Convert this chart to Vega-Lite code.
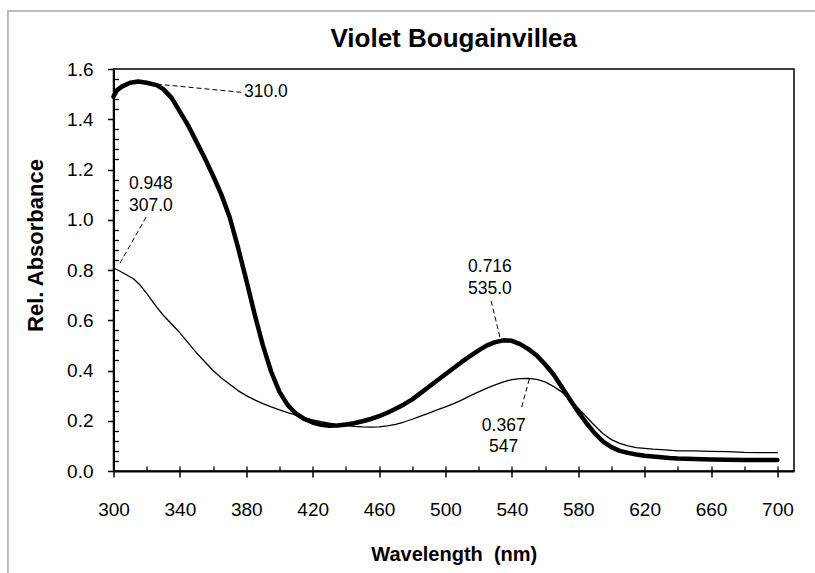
{
  "$schema": "https://vega.github.io/schema/vega-lite/v6.json",
  "width": 680.5,
  "height": 402,
  "autosize": {"type": "none"},
  "padding": {"left": 113.5, "top": 69, "right": 21, "bottom": 102},
  "background": "white",
  "title": {
    "text": "Violet Bougainvillea",
    "font": "Liberation Sans",
    "fontSize": 26,
    "fontWeight": "bold",
    "color": "black",
    "anchor": "middle",
    "frame": "group",
    "baseline": "top",
    "offset": -42
  },
  "config": {
    "view": {"stroke": "black", "strokeWidth": 1.5},
    "axis": {"grid": false}
  },
  "datasets": {
    "frame": [{"x0": 236.4, "x1": 731.6, "y0": 1.831, "y1": -0.474}],
    "spectra": [
      {"series": "thick", "nm": 300, "abs": 1.49}, {"series": "thick", "nm": 302, "abs": 1.515}, {"series": "thick", "nm": 305, "abs": 1.53},
      {"series": "thick", "nm": 310, "abs": 1.545}, {"series": "thick", "nm": 315, "abs": 1.55}, {"series": "thick", "nm": 320, "abs": 1.545},
      {"series": "thick", "nm": 326, "abs": 1.536}, {"series": "thick", "nm": 330, "abs": 1.52}, {"series": "thick", "nm": 335, "abs": 1.485},
      {"series": "thick", "nm": 340, "abs": 1.43}, {"series": "thick", "nm": 345, "abs": 1.375}, {"series": "thick", "nm": 350, "abs": 1.31},
      {"series": "thick", "nm": 355, "abs": 1.245}, {"series": "thick", "nm": 360, "abs": 1.175}, {"series": "thick", "nm": 365, "abs": 1.1},
      {"series": "thick", "nm": 370, "abs": 1.01}, {"series": "thick", "nm": 375, "abs": 0.89}, {"series": "thick", "nm": 380, "abs": 0.76},
      {"series": "thick", "nm": 385, "abs": 0.625}, {"series": "thick", "nm": 390, "abs": 0.5}, {"series": "thick", "nm": 395, "abs": 0.395},
      {"series": "thick", "nm": 400, "abs": 0.315}, {"series": "thick", "nm": 405, "abs": 0.262}, {"series": "thick", "nm": 410, "abs": 0.228},
      {"series": "thick", "nm": 415, "abs": 0.207}, {"series": "thick", "nm": 420, "abs": 0.193}, {"series": "thick", "nm": 425, "abs": 0.184},
      {"series": "thick", "nm": 430, "abs": 0.18}, {"series": "thick", "nm": 435, "abs": 0.181}, {"series": "thick", "nm": 440, "abs": 0.185},
      {"series": "thick", "nm": 445, "abs": 0.19}, {"series": "thick", "nm": 450, "abs": 0.198}, {"series": "thick", "nm": 455, "abs": 0.207},
      {"series": "thick", "nm": 460, "abs": 0.218}, {"series": "thick", "nm": 465, "abs": 0.232}, {"series": "thick", "nm": 470, "abs": 0.248},
      {"series": "thick", "nm": 475, "abs": 0.265}, {"series": "thick", "nm": 480, "abs": 0.285}, {"series": "thick", "nm": 485, "abs": 0.31},
      {"series": "thick", "nm": 490, "abs": 0.335}, {"series": "thick", "nm": 495, "abs": 0.36}, {"series": "thick", "nm": 500, "abs": 0.385},
      {"series": "thick", "nm": 505, "abs": 0.41}, {"series": "thick", "nm": 510, "abs": 0.435}, {"series": "thick", "nm": 515, "abs": 0.458},
      {"series": "thick", "nm": 520, "abs": 0.48}, {"series": "thick", "nm": 525, "abs": 0.5}, {"series": "thick", "nm": 530, "abs": 0.513},
      {"series": "thick", "nm": 535, "abs": 0.52}, {"series": "thick", "nm": 540, "abs": 0.518}, {"series": "thick", "nm": 545, "abs": 0.505},
      {"series": "thick", "nm": 550, "abs": 0.485}, {"series": "thick", "nm": 555, "abs": 0.46}, {"series": "thick", "nm": 560, "abs": 0.425},
      {"series": "thick", "nm": 565, "abs": 0.385}, {"series": "thick", "nm": 570, "abs": 0.335}, {"series": "thick", "nm": 575, "abs": 0.285},
      {"series": "thick", "nm": 580, "abs": 0.235}, {"series": "thick", "nm": 585, "abs": 0.19}, {"series": "thick", "nm": 590, "abs": 0.15},
      {"series": "thick", "nm": 595, "abs": 0.117}, {"series": "thick", "nm": 600, "abs": 0.095}, {"series": "thick", "nm": 605, "abs": 0.08},
      {"series": "thick", "nm": 610, "abs": 0.072}, {"series": "thick", "nm": 615, "abs": 0.066}, {"series": "thick", "nm": 620, "abs": 0.061},
      {"series": "thick", "nm": 625, "abs": 0.058}, {"series": "thick", "nm": 630, "abs": 0.055}, {"series": "thick", "nm": 635, "abs": 0.052},
      {"series": "thick", "nm": 640, "abs": 0.05}, {"series": "thick", "nm": 650, "abs": 0.048}, {"series": "thick", "nm": 660, "abs": 0.046},
      {"series": "thick", "nm": 670, "abs": 0.045}, {"series": "thick", "nm": 680, "abs": 0.044}, {"series": "thick", "nm": 690, "abs": 0.044},
      {"series": "thick", "nm": 700, "abs": 0.044},
      {"series": "thin", "nm": 300, "abs": 0.808}, {"series": "thin", "nm": 304, "abs": 0.795}, {"series": "thin", "nm": 308, "abs": 0.78},
      {"series": "thin", "nm": 312, "abs": 0.765}, {"series": "thin", "nm": 316, "abs": 0.74}, {"series": "thin", "nm": 320, "abs": 0.707},
      {"series": "thin", "nm": 326, "abs": 0.652}, {"series": "thin", "nm": 330, "abs": 0.62}, {"series": "thin", "nm": 335, "abs": 0.585},
      {"series": "thin", "nm": 340, "abs": 0.55}, {"series": "thin", "nm": 345, "abs": 0.51}, {"series": "thin", "nm": 350, "abs": 0.47},
      {"series": "thin", "nm": 355, "abs": 0.435}, {"series": "thin", "nm": 360, "abs": 0.4}, {"series": "thin", "nm": 365, "abs": 0.37},
      {"series": "thin", "nm": 370, "abs": 0.345}, {"series": "thin", "nm": 375, "abs": 0.32}, {"series": "thin", "nm": 380, "abs": 0.3},
      {"series": "thin", "nm": 385, "abs": 0.283}, {"series": "thin", "nm": 390, "abs": 0.268}, {"series": "thin", "nm": 395, "abs": 0.255},
      {"series": "thin", "nm": 400, "abs": 0.243}, {"series": "thin", "nm": 405, "abs": 0.232}, {"series": "thin", "nm": 410, "abs": 0.222},
      {"series": "thin", "nm": 415, "abs": 0.212}, {"series": "thin", "nm": 420, "abs": 0.203}, {"series": "thin", "nm": 425, "abs": 0.196},
      {"series": "thin", "nm": 430, "abs": 0.19}, {"series": "thin", "nm": 435, "abs": 0.185}, {"series": "thin", "nm": 440, "abs": 0.181},
      {"series": "thin", "nm": 445, "abs": 0.178}, {"series": "thin", "nm": 450, "abs": 0.176}, {"series": "thin", "nm": 455, "abs": 0.175},
      {"series": "thin", "nm": 460, "abs": 0.176}, {"series": "thin", "nm": 465, "abs": 0.18}, {"series": "thin", "nm": 470, "abs": 0.186},
      {"series": "thin", "nm": 475, "abs": 0.195}, {"series": "thin", "nm": 480, "abs": 0.206}, {"series": "thin", "nm": 485, "abs": 0.218},
      {"series": "thin", "nm": 490, "abs": 0.23}, {"series": "thin", "nm": 495, "abs": 0.243}, {"series": "thin", "nm": 500, "abs": 0.255},
      {"series": "thin", "nm": 505, "abs": 0.268}, {"series": "thin", "nm": 510, "abs": 0.283}, {"series": "thin", "nm": 515, "abs": 0.3},
      {"series": "thin", "nm": 520, "abs": 0.315}, {"series": "thin", "nm": 525, "abs": 0.33}, {"series": "thin", "nm": 530, "abs": 0.343},
      {"series": "thin", "nm": 535, "abs": 0.355}, {"series": "thin", "nm": 540, "abs": 0.364}, {"series": "thin", "nm": 545, "abs": 0.368},
      {"series": "thin", "nm": 550, "abs": 0.369}, {"series": "thin", "nm": 555, "abs": 0.365}, {"series": "thin", "nm": 560, "abs": 0.355},
      {"series": "thin", "nm": 565, "abs": 0.337}, {"series": "thin", "nm": 570, "abs": 0.315}, {"series": "thin", "nm": 575, "abs": 0.285},
      {"series": "thin", "nm": 580, "abs": 0.25}, {"series": "thin", "nm": 585, "abs": 0.215}, {"series": "thin", "nm": 590, "abs": 0.18},
      {"series": "thin", "nm": 595, "abs": 0.148}, {"series": "thin", "nm": 600, "abs": 0.125}, {"series": "thin", "nm": 605, "abs": 0.11},
      {"series": "thin", "nm": 610, "abs": 0.1}, {"series": "thin", "nm": 615, "abs": 0.093}, {"series": "thin", "nm": 620, "abs": 0.09},
      {"series": "thin", "nm": 625, "abs": 0.087}, {"series": "thin", "nm": 630, "abs": 0.085}, {"series": "thin", "nm": 640, "abs": 0.08},
      {"series": "thin", "nm": 650, "abs": 0.08}, {"series": "thin", "nm": 660, "abs": 0.078}, {"series": "thin", "nm": 670, "abs": 0.077},
      {"series": "thin", "nm": 680, "abs": 0.074}, {"series": "thin", "nm": 690, "abs": 0.073}, {"series": "thin", "nm": 700, "abs": 0.073}
    ],
    "leaders": [
      {"x1": 326, "y1": 1.54, "x2": 377.2, "y2": 1.507},
      {"x1": 303.9, "y1": 0.827, "x2": 319.6, "y2": 1.01},
      {"x1": 532.8, "y1": 0.534, "x2": 527.2, "y2": 0.685},
      {"x1": 550.5, "y1": 0.366, "x2": 545.9, "y2": 0.2535}
    ],
    "labelsLeft": [
      {"label": "310.0", "x": 378.6, "y": 1.507}
    ],
    "labelsCenter": [
      {"label": "0.948", "x": 322.5, "y": 1.142},
      {"label": "307.0", "x": 322.5, "y": 1.056},
      {"label": "0.716", "x": 526.8, "y": 0.81},
      {"label": "535.0", "x": 526.8, "y": 0.724},
      {"label": "0.367", "x": 535.1, "y": 0.179},
      {"label": "547", "x": 535.1, "y": 0.0967}
    ]
  },
  "layer": [
    {
      "data": {"name": "frame"},
      "mark": {"type": "rect", "fill": null, "stroke": "#a6a6a6", "strokeWidth": 1.5, "clip": false},
      "encoding": {
        "x": {"field": "x0", "type": "quantitative", "scale": {"domain": [300, 710]}, "axis": null},
        "x2": {"field": "x1"},
        "y": {"field": "y0", "type": "quantitative", "scale": {"domain": [0, 1.6]}, "axis": null},
        "y2": {"field": "y1"}
      }
    },
    {
      "data": {"name": "spectra"},
      "mark": {"type": "line", "color": "black", "strokeJoin": "round", "strokeCap": "round"},
      "encoding": {
        "x": {
          "field": "nm", "type": "quantitative",
          "scale": {"domain": [300, 710], "nice": false, "zero": false},
          "axis": {
            "orient": "bottom",
            "values": [300, 340, 380, 420, 460, 500, 540, 580, 620, 660, 700],
            "tickSize": 6, "tickWidth": 1.5, "tickColor": "black",
            "domainColor": "black", "domainWidth": 2,
            "labelFont": "Liberation Sans", "labelFontSize": 19, "labelColor": "black",
            "labelBaseline": "middle", "labelPadding": 32, "labelFlush": false, "labelOverlap": false,
            "title": "Wavelength \u00a0(nm)",
            "titleFont": "Liberation Sans", "titleFontSize": 20, "titleFontWeight": "bold", "titleColor": "black",
            "titleY": 83, "titleBaseline": "middle"
          }
        },
        "y": {
          "field": "abs", "type": "quantitative",
          "scale": {"domain": [0, 1.6], "nice": false},
          "axis": {
            "orient": "left",
            "values": [0, 0.2, 0.4, 0.6, 0.8, 1.0, 1.2, 1.4, 1.6],
            "format": ".1f",
            "tickSize": 6, "tickWidth": 1.5, "tickColor": "black",
            "domainColor": "black", "domainWidth": 2,
            "labelFont": "Liberation Sans", "labelFontSize": 19, "labelColor": "black",
            "labelPadding": 14.5, "labelOverlap": false,
            "title": "Rel. Absorbance",
            "titleFont": "Liberation Sans", "titleFontSize": 22, "titleFontWeight": "bold", "titleColor": "black",
            "titleX": -78.5, "titleY": 176, "titleAlign": "center", "titleBaseline": "middle", "titleAngle": 270
          }
        },
        "detail": {"field": "series"},
        "strokeWidth": {"field": "series", "type": "nominal", "scale": {"domain": ["thick", "thin"], "range": [4.5, 1.3]}, "legend": null}
      }
    },
    {
      "data": {"name": "leaders"},
      "mark": {"type": "rule", "color": "black", "strokeWidth": 1, "strokeDash": [5, 3]},
      "encoding": {
        "x": {
          "field": "x1", "type": "quantitative", "scale": {"domain": [300, 710]},
          "axis": {
            "orient": "bottom",
            "values": [300, 320, 340, 360, 380, 400, 420, 440, 460, 480, 500, 520, 540, 560, 580, 600, 620, 640, 660, 680, 700],
            "tickSize": -5, "tickWidth": 1.3, "tickColor": "black",
            "labels": false, "domain": false, "title": null
          }
        },
        "x2": {"field": "x2"},
        "y": {
          "field": "y1", "type": "quantitative", "scale": {"domain": [0, 1.6]},
          "axis": {
            "orient": "left",
            "values": [0.04, 0.08, 0.12, 0.16, 0.24, 0.28, 0.32, 0.36, 0.44, 0.48, 0.52, 0.56, 0.64, 0.68, 0.72, 0.76, 0.84, 0.88, 0.92, 0.96, 1.04, 1.08, 1.12, 1.16, 1.24, 1.28, 1.32, 1.36, 1.44, 1.48, 1.52, 1.56],
            "tickSize": -5, "tickWidth": 1.3, "tickColor": "black",
            "labels": false, "domain": false, "title": null
          }
        },
        "y2": {"field": "y2"}
      }
    },
    {
      "data": {"name": "labelsLeft"},
      "mark": {"type": "text", "font": "Liberation Sans", "fontSize": 17.5, "color": "black", "align": "left", "baseline": "middle"},
      "encoding": {
        "x": {"field": "x", "type": "quantitative", "scale": {"domain": [300, 710]}, "axis": null},
        "y": {"field": "y", "type": "quantitative", "scale": {"domain": [0, 1.6]}, "axis": null},
        "text": {"field": "label"}
      }
    },
    {
      "data": {"name": "labelsCenter"},
      "mark": {"type": "text", "font": "Liberation Sans", "fontSize": 17.5, "color": "black", "align": "center", "baseline": "middle"},
      "encoding": {
        "x": {"field": "x", "type": "quantitative", "scale": {"domain": [300, 710]}, "axis": null},
        "y": {"field": "y", "type": "quantitative", "scale": {"domain": [0, 1.6]}, "axis": null},
        "text": {"field": "label"}
      }
    }
  ],
  "resolve": {"axis": {"x": "independent", "y": "independent"}}
}
